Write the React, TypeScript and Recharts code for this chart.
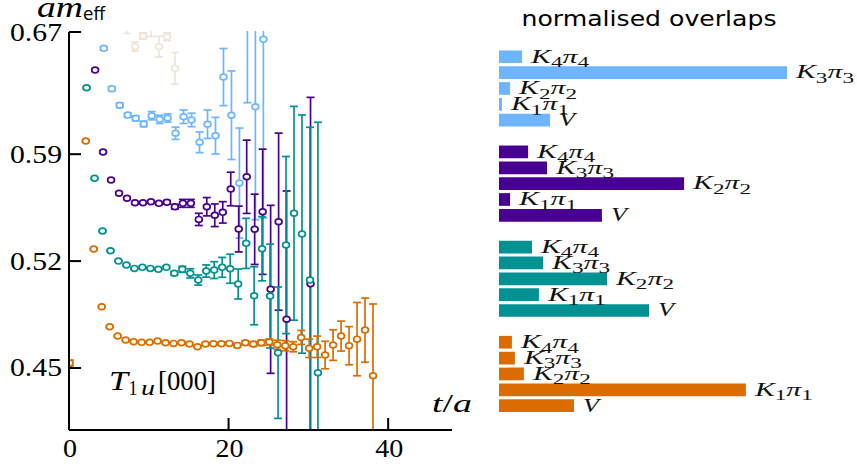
import React from "react";
import {
  ScatterChart,
  Scatter,
  XAxis,
  YAxis,
  ErrorBar,
  BarChart,
  Bar,
  Cell,
  LabelList,
} from "recharts";

const SERIF = "'Liberation Serif', 'Times New Roman', serif";
const SANS = "'DejaVu Sans', Verdana, sans-serif";

// effective mass per level: timeslice, value, error
const tLevel0 = [0, 2, 3, 4, 5, 6, 7, 8, 9, 10, 11, 12, 13, 14, 15, 16, 17, 18, 19, 20, 21, 22, 23, 24, 25, 26, 27, 28, 29, 30, 31, 32, 33, 34, 35, 36, 37, 38];
const mLevel0 = [0.4532, 0.5986, 0.5279, 0.4901, 0.477, 0.4709, 0.4683, 0.4672, 0.4668, 0.4668, 0.4676, 0.4665, 0.4661, 0.4665, 0.4657, 0.4639, 0.4657, 0.4659, 0.4659, 0.4661, 0.4648, 0.4665, 0.4657, 0.4665, 0.467, 0.4652, 0.4646, 0.4639, 0.47, 0.4629, 0.4639, 0.4585, 0.465, 0.4709, 0.4646, 0.4689, 0.4748, 0.4449];
const eLevel0 = [0.002, 0.0004, 0.0003, 0.0003, 0.0003, 0.0003, 0.0003, 0.0003, 0.0003, 0.0004, 0.0004, 0.0004, 0.0004, 0.0005, 0.0005, 0.0005, 0.0006, 0.0007, 0.0008, 0.001, 0.0012, 0.0013, 0.0015, 0.0018, 0.002, 0.003, 0.0033, 0.0033, 0.0046, 0.006, 0.007, 0.009, 0.01, 0.0098, 0.0125, 0.024, 0.021, 0.047];

const tLevel1 = [2, 3, 4, 5, 6, 7, 8, 9, 10, 11, 12, 13, 14, 15, 16, 17, 18, 19, 20, 21, 22, 23, 24, 25, 26, 27, 28, 29, 30, 31];
const mLevel1 = [0.6335, 0.5742, 0.5397, 0.5268, 0.52, 0.5174, 0.5152, 0.5159, 0.5152, 0.5146, 0.5159, 0.512, 0.5146, 0.512, 0.5076, 0.5135, 0.5141, 0.5159, 0.515, 0.505, 0.5316, 0.4973, 0.5281, 0.4971, 0.46, 0.5305, 0.5513, 0.5377, 0.5076, 0.4469];
const eLevel1 = [0.0005, 0.0004, 0.0004, 0.0004, 0.0004, 0.0004, 0.0004, 0.0005, 0.0005, 0.0006, 0.0008, 0.0013, 0.002, 0.003, 0.0033, 0.004, 0.0055, 0.0065, 0.0095, 0.0098, 0.0164, 0.019, 0.021, 0.034, 0.043, 0.058, 0.07, 0.078, 0.1, 0.164];

const tLevel2 = [3, 4, 5, 6, 7, 8, 9, 10, 11, 12, 13, 14, 15, 16, 17, 18, 19, 20, 21, 22, 23, 24, 25, 26, 27, 30];
const mLevel2 = [0.6451, 0.5914, 0.5731, 0.5644, 0.5611, 0.5582, 0.5582, 0.5589, 0.5578, 0.5585, 0.5556, 0.5578, 0.5578, 0.5473, 0.5556, 0.55, 0.5519, 0.5672, 0.541, 0.5752, 0.5408, 0.5523, 0.5015, 0.5458, 0.4819, 0.5052];
const eLevel2 = [0.0006, 0.0005, 0.0005, 0.0005, 0.0005, 0.0006, 0.0006, 0.0007, 0.0008, 0.0012, 0.0015, 0.0026, 0.0026, 0.004, 0.006, 0.0074, 0.007, 0.011, 0.015, 0.024, 0.023, 0.041, 0.055, 0.058, 0.084, 0.122];

const tLevel3 = [4, 5, 6, 7, 8, 9, 10, 11, 12, 13, 14, 15, 16, 17, 18, 19, 20, 21, 22, 23, 24];
const mLevel3 = [0.6593, 0.6329, 0.622, 0.6156, 0.6135, 0.6098, 0.6152, 0.6128, 0.6137, 0.6037, 0.6145, 0.6124, 0.5978, 0.6096, 0.6021, 0.6405, 0.6155, 0.5711, 0.7, 0.6211, 0.6652];
const eLevel3 = [0.001, 0.0013, 0.0015, 0.0015, 0.0016, 0.0018, 0.0027, 0.0027, 0.0027, 0.004, 0.0044, 0.0044, 0.0068, 0.0093, 0.012, 0.0187, 0.029, 0.036, 0.0763, 0.074, 0.117];

const tLevel4 = [7, 8, 9, 10, 11, 12, 13];
const mLevel4 = [0.676, 0.6604, 0.6674, 0.673, 0.6604, 0.6669, 0.6462];
const eLevel4 = [0.007, 0.003, 0.002, 0.006, 0.0068, 0.0026, 0.0104];

const yTicks = [0.45, 0.52, 0.59, 0.67];
const xTicks = [0, 20, 40];

// normalised overlaps, rows top to bottom in each block
const operators = ["K4π4", "K3π3", "K2π2", "K1π1", "V"];
const overlapsLevel3 = [0.077, 0.96, 0.037, 0.01, 0.17];
const overlapsLevel2 = [0.097, 0.16, 0.617, 0.037, 0.343];
const overlapsLevel1 = [0.11, 0.147, 0.36, 0.133, 0.5];
const overlapsLevel0 = [0.043, 0.053, 0.083, 0.823, 0.25];

const COLORS = ["#db6d00", "#009292", "#490092", "#6db6ff", "#eee4da"];
const SHIFT = [0.1, 0.2, 0.27, 0.36, 0.28];

const X_DOMAIN: [number, number] = [0, 48];
const Y_DOMAIN: [number, number] = [0.4094, 0.67];
const MARGIN = { top: 32, right: 28, bottom: 0, left: 9 };

const series = [
  [tLevel4, mLevel4, eLevel4, 4],
  [tLevel3, mLevel3, eLevel3, 3],
  [tLevel2, mLevel2, eLevel2, 2],
  [tLevel1, mLevel1, eLevel1, 1],
  [tLevel0, mLevel0, eLevel0, 0],
].map(([ts, ms, es, lvl]: any) => ({
  level: lvl as number,
  data: (ts as number[]).map((t, i) => ({ x: t + SHIFT[lvl], y: ms[i], e: es[i] })),
}));

const blocks = [
  { level: 3, values: overlapsLevel3 },
  { level: 2, values: overlapsLevel2 },
  { level: 1, values: overlapsLevel1 },
  { level: 0, values: overlapsLevel0 },
];
const barRows: { row: string; v: number | null; op: string; color: string }[] = [];
blocks.forEach((b, bi) => {
  operators.forEach((op, i) =>
    barRows.push({ row: `${b.level}-${op}`, v: b.values[i], op, color: COLORS[b.level] })
  );
  if (bi < blocks.length - 1) barRows.push({ row: `gap${bi}`, v: null, op: "", color: "none" });
});

const Ring = (color: string) => (props: any) => {
  const { cx, cy } = props;
  if (cx == null || cy == null) return null;
  return <ellipse cx={cx} cy={cy} rx={3.4} ry={2.9} fill="#fff" stroke={color} strokeWidth={1.7} />;
};

const YTick = (props: any) => {
  const { x, y, payload } = props;
  return (
    <g>
      <line x1={x} x2={x + 12} y1={y} y2={y} stroke="#000" strokeWidth={2} />
      <text x={x - 7} y={y + 8.5} textAnchor="end" fontFamily={SERIF} fontSize={26} fill="#000"
        textLength={52} lengthAdjust="spacingAndGlyphs">
        {Number(payload.value).toFixed(2)}
      </text>
    </g>
  );
};

const XTick = (props: any) => {
  const { x, y, payload } = props;
  const s = String(payload.value);
  return (
    <g>
      <line x1={x} x2={x} y1={y} y2={y - 12} stroke="#000" strokeWidth={2} />
      <text x={x + 1} y={y + 27} textAnchor="middle" fontFamily={SERIF} fontSize={26} fill="#000"
        textLength={14 * s.length} lengthAdjust="spacingAndGlyphs">
        {s}
      </text>
    </g>
  );
};

const OpLabel = (props: any) => {
  const { x, y, width, height, value } = props;
  if (!value) return null;
  const lx = Number(x) + Number(width) + 9;
  const ly = Number(y) + Number(height) - 0.5;
  if (value === "V") {
    return (
      <text x={lx} y={ly} fontFamily={SERIF} fontStyle="italic" fontSize={18} fill="#111"
        textLength={16} lengthAdjust="spacingAndGlyphs">V</text>
    );
  }
  const s = String(value);
  return (
    <text x={lx} y={ly} fontFamily={SERIF} fontSize={18} fill="#111" textLength={58} lengthAdjust="spacingAndGlyphs">
      <tspan fontStyle="italic">{s[0]}</tspan>
      <tspan fontSize={14} dy={4.5}>{s[1]}</tspan>
      <tspan fontStyle="italic" dy={-4.5}>{s[2]}</tspan>
      <tspan fontSize={14} dy={4.5}>{s[3]}</tspan>
    </text>
  );
};

export default function App() {
  return (
    <div style={{ position: "absolute", left: 0, top: 0, width: 857, height: 468, background: "#fff" }}>
      {/* data layer, clipped to the plot frame */}
      <div style={{ position: "absolute", left: 0, top: 0, clipPath: "inset(31px 28px 38px 70px)" }}>
        <ScatterChart width={480} height={468} margin={MARGIN}>
          <XAxis type="number" dataKey="x" domain={X_DOMAIN} allowDataOverflow ticks={xTicks}
            height={38} tick={false} tickLine={false} axisLine={false} />
          <YAxis type="number" dataKey="y" domain={Y_DOMAIN} allowDataOverflow ticks={yTicks}
            width={60} tick={false} tickLine={false} axisLine={false} />
          {series.map((s) => (
            <Scatter key={s.level} data={s.data} fill={COLORS[s.level]} shape={Ring(COLORS[s.level])}
              isAnimationActive={false}>
              <ErrorBar dataKey="e" direction="y" width={4} stroke={COLORS[s.level]} strokeWidth={1.7} />
            </Scatter>
          ))}
        </ScatterChart>
      </div>
      {/* axes layer */}
      <div style={{ position: "absolute", left: 0, top: 0 }}>
        <ScatterChart width={480} height={468} margin={MARGIN}>
          <XAxis type="number" dataKey="x" domain={X_DOMAIN} allowDataOverflow ticks={xTicks}
            height={38} tickSize={0} tickMargin={0} tickLine={false}
            axisLine={{ stroke: "#000", strokeWidth: 2 }} tick={<XTick />} />
          <YAxis type="number" dataKey="y" domain={Y_DOMAIN} allowDataOverflow ticks={yTicks}
            width={60} tickSize={0} tickMargin={0} tickLine={false}
            axisLine={{ stroke: "#000", strokeWidth: 2 }} tick={<YTick />} />
          <Scatter data={[]} isAnimationActive={false} />
        </ScatterChart>
      </div>
      <div style={{ position: "absolute", left: 480, top: 0 }}>
        <BarChart width={377} height={468} layout="vertical" data={barRows}
          margin={{ top: 48.4, right: 58, bottom: 54.8, left: 19 }}>
          <XAxis type="number" domain={[0, 1]} hide />
          <YAxis type="category" dataKey="row" hide />
          <Bar dataKey="v" barSize={12.7} isAnimationActive={false}>
            {barRows.map((r) => (
              <Cell key={r.row} fill={r.color} />
            ))}
            <LabelList dataKey="op" content={<OpLabel />} />
          </Bar>
        </BarChart>
      </div>
      <svg width={857} height={468} style={{ position: "absolute", left: 0, top: 0, pointerEvents: "none" }}>
        <text x={37} y={17} fontFamily={SERIF} fontStyle="italic" fontSize={30} textLength={46}
          lengthAdjust="spacingAndGlyphs">am</text>
        <text x={83} y={20} fontFamily={SANS} fontSize={17} textLength={22} lengthAdjust="spacingAndGlyphs">eff</text>
        <text x={432} y={412} fontFamily={SERIF} fontSize={25} textLength={40} lengthAdjust="spacingAndGlyphs">
          <tspan fontStyle="italic">t</tspan>
          <tspan>/</tspan>
          <tspan fontStyle="italic">a</tspan>
        </text>
        <text x={109} y={390} fontFamily={SERIF} fontStyle="italic" fontSize={28} textLength={19}
          lengthAdjust="spacingAndGlyphs">T</text>
        <text x={128.5} y={395} fontFamily={SERIF} fontSize={21} textLength={9}
          lengthAdjust="spacingAndGlyphs">1</text>
        <text x={141} y={395} fontFamily={SERIF} fontStyle="italic" fontSize={22} textLength={14}
          lengthAdjust="spacingAndGlyphs">u</text>
        <text x={158} y={390} fontFamily={SERIF} fontSize={28} textLength={58} lengthAdjust="spacingAndGlyphs">[000]</text>
        <text x={649} y={26} textAnchor="middle" fontFamily={SANS} fontSize={21} textLength={255}
          lengthAdjust="spacingAndGlyphs">normalised overlaps</text>
      </svg>
    </div>
  );
}
